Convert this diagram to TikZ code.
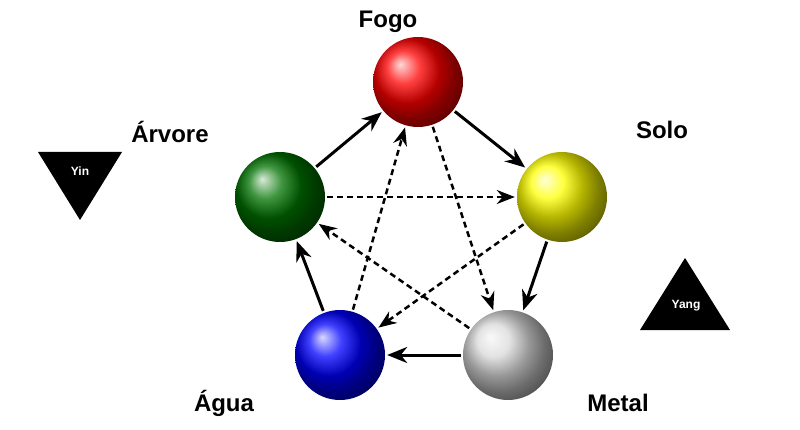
\documentclass[tikz,border=0pt]{standalone}
\usepackage{fontspec}
\setmainfont{Liberation Sans}
\usetikzlibrary{arrows.meta}
\begin{document}
\begin{tikzpicture}[x=1pt,y=-1pt,
  sph/.style={circle,minimum size=90pt,inner sep=0pt,shading=ball},
  lab/.style={font=\bfseries\fontsize{24}{26}\selectfont},
  sol/.style={line width=3pt,-{Stealth[length=20pt,width=16pt]},shorten >=2pt,shorten <=2pt},
  dsh/.style={line width=2.5pt,dash pattern=on 6pt off 4pt,-{Stealth[length=18pt,width=14pt]},shorten >=2pt,shorten <=2pt},
  tri/.style={fill=black}]
\useasboundingbox (0,0) rectangle (800,430);
\fill[white] (0,0) rectangle (800,430);
\node[sph,ball color=red] (fogo) at (418,82) {};
\node[sph,ball color=yellow] (solo) at (562,197) {};
\node[sph,ball color=white!85!black] (metal) at (508,355) {};
\node[sph,ball color=blue] (agua) at (340,355) {};
\node[sph,ball color=green!45!black] (arvore) at (280,197) {};
\node[lab] (lfogo) at (388,22) {Fogo};
\node[lab] (larvore) at (170,132) {Árvore};
\node[lab] (lsolo) at (662,130) {Solo};
\node[lab] (lagua) at (224,403) {Água};
\node[lab] (lmetal) at (618,403) {Metal};
\fill[tri] (38,152) -- (122,152) -- (80,220) -- cycle;
\node[white,font=\bfseries\fontsize{12}{14}\selectfont] (yin) at (80,171) {Yin};
\fill[tri] (685,258) -- (730,330) -- (640,330) -- cycle;
\node[white,font=\bfseries\fontsize{12}{14}\selectfont] (yang) at (686,306) {Yang};
\draw[sol] (arvore) -- (fogo);
\draw[sol] (fogo) -- (solo);
\draw[sol] (solo) -- (metal);
\draw[sol] (metal) -- (agua);
\draw[sol] (agua) -- (arvore);
\draw[dsh] (arvore) -- (solo);
\draw[dsh] (fogo) -- (metal);
\draw[dsh] (solo) -- (agua);
\draw[dsh] (metal) -- (arvore);
\draw[dsh] (agua) -- (fogo);
\end{tikzpicture}
\end{document}
